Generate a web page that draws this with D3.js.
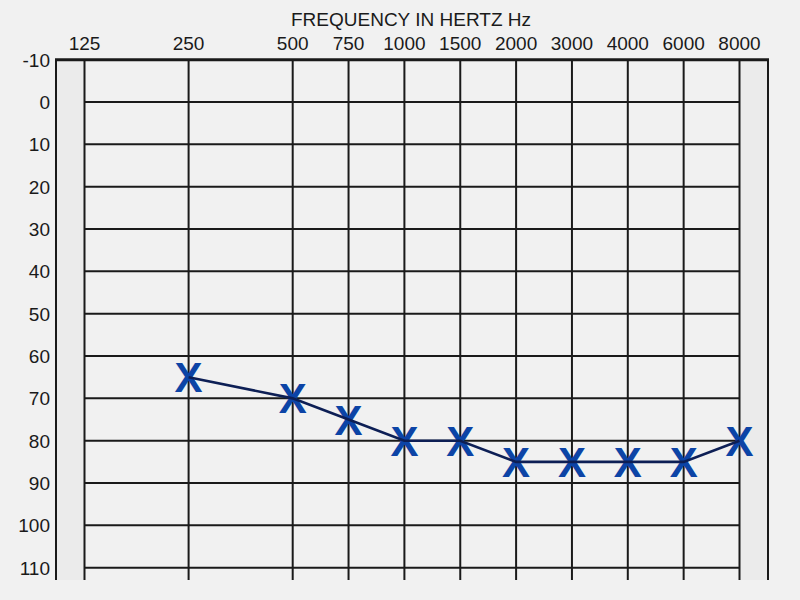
<!DOCTYPE html>
<html>
<head>
<meta charset="utf-8">
<script src="https://cdn.jsdelivr.net/npm/d3@7"></script>
<style>
  html, body { margin: 0; padding: 0; background: #f1f1f1; }
  svg { display: block; font-family: "Liberation Sans", Arial, sans-serif; }
</style>
</head>
<body>
<svg id="chart" width="800" height="600"></svg>
<script>
// ---- data ----
const frequencies = ["125", "250", "500", "750", "1000", "1500", "2000", "3000", "4000", "6000", "8000"];
const levelTicks = [-10, 0, 10, 20, 30, 40, 50, 60, 70, 80, 90, 100, 110];
const testedFreqs = ["250", "500", "750", "1000", "1500", "2000", "3000", "4000", "6000", "8000"];
const thresholds = [65, 70, 75, 80, 80, 85, 85, 85, 85, 80];
const titleText = "FREQUENCY IN HERTZ Hz";

// ---- layout ----
const svg = d3.select("#chart");
const gridLeft = 84.5, gridRight = 739.5, frameLeft = 56, frameRight = 768;
const plotTop = 59.7, plotBottom = 567.7, lineBottom = 580;

// octave spacing for first three, then equal spacing
const idx = d3.scaleLinear().domain([0, 2, frequencies.length - 1]).range([gridLeft, gridLeft + 2 * 104.1, gridRight]);
const x = f => idx(frequencies.indexOf(f));
const y = d3.scaleLinear().domain([-10, 110]).range([plotTop, plotBottom]);

// side strips
svg.append("rect").attr("x", frameLeft).attr("y", plotTop).attr("width", gridLeft - frameLeft).attr("height", lineBottom - plotTop).attr("fill", "#ebebeb");
svg.append("rect").attr("x", gridRight).attr("y", plotTop).attr("width", frameRight - gridRight).attr("height", lineBottom - plotTop).attr("fill", "#ebebeb");

const gridColor = "#1a1a1a";
// horizontal grid lines
svg.append("g").selectAll("line").data(levelTicks.slice(1)).join("line")
  .attr("x1", gridLeft).attr("x2", gridRight)
  .attr("y1", d => y(d)).attr("y2", d => y(d))
  .attr("stroke", gridColor).attr("stroke-width", 2);

// vertical grid lines
svg.append("g").selectAll("line").data(frequencies).join("line")
  .attr("x1", d => x(d)).attr("x2", d => x(d))
  .attr("y1", plotTop).attr("y2", lineBottom)
  .attr("stroke", gridColor).attr("stroke-width", 2);

// frame edges
[frameLeft, frameRight].forEach(px => {
  svg.append("line").attr("x1", px).attr("x2", px).attr("y1", plotTop).attr("y2", lineBottom)
    .attr("stroke", gridColor).attr("stroke-width", 2);
});
svg.append("line").attr("x1", frameLeft - 1).attr("x2", frameRight + 1).attr("y1", plotTop).attr("y2", plotTop)
  .attr("stroke", gridColor).attr("stroke-width", 3);

// x tick labels
svg.append("g").selectAll("text").data(frequencies).join("text")
  .attr("x", d => x(d)).attr("y", 50)
  .attr("text-anchor", "middle").attr("font-size", 19).attr("fill", "#1a1a1a")
  .text(d => d);

// y tick labels
svg.append("g").selectAll("text").data(levelTicks).join("text")
  .attr("x", 50).attr("y", d => y(d) + 7)
  .attr("text-anchor", "end").attr("font-size", 19).attr("fill", "#1a1a1a")
  .text(d => d);

// title
svg.append("text").attr("x", 411).attr("y", 26).attr("text-anchor", "middle")
  .attr("font-size", 19).attr("fill", "#1a1a1a").text(titleText);

// data
const pts = testedFreqs.map((f, i) => ({ f, v: thresholds[i] }));

svg.append("g").selectAll("text").data(pts).join("text")
  .attr("x", d => x(d.f)).attr("y", d => y(d.v) + 15)
  .attr("text-anchor", "middle").attr("font-size", 42).attr("font-weight", "bold")
  .attr("fill", "#0c44a6").text("X");

svg.append("path").datum(pts)
  .attr("d", d3.line().x(d => x(d.f)).y(d => y(d.v)))
  .attr("fill", "none").attr("stroke", "#0d1f55").attr("stroke-width", 2.6);
</script>
</body>
</html>
